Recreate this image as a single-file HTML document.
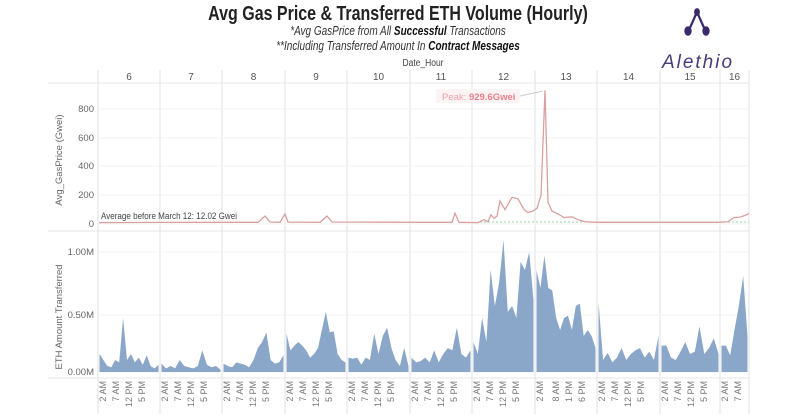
<!DOCTYPE html>
<html><head><meta charset="utf-8"><style>
body{margin:0;background:#fff;width:800px;height:414px;overflow:hidden;font-family:"Liberation Sans",sans-serif}
text{font-family:"Liberation Sans",sans-serif}
</style></head><body>
<svg id="s" width="800" height="414" viewBox="0 0 800 414" xmlns="http://www.w3.org/2000/svg">
<text x="398" y="20" text-anchor="middle" font-size="20" font-weight="bold" fill="#222" transform="translate(398 0) scale(0.8 1) translate(-398 0)">Avg Gas Price &amp; Transferred ETH Volume (Hourly)</text>
<text x="398" y="35" text-anchor="middle" font-size="12.5" font-style="italic" fill="#333" transform="translate(398 0) scale(0.8 1) translate(-398 0)">*Avg GasPrice from All <tspan font-weight="bold" fill="#111">Successful</tspan> Transactions</text>
<text x="398" y="50" text-anchor="middle" font-size="12.5" font-style="italic" fill="#333" transform="translate(398 0) scale(0.8 1) translate(-398 0)">**Including Transferred Amount In <tspan font-weight="bold" fill="#111">Contract Messages</tspan></text>
<g fill="#3b2a6b" stroke="#3b2a6b" stroke-width="2.2">
<line x1="697" y1="12" x2="689" y2="30"/><line x1="697" y1="12" x2="705" y2="30"/>
<ellipse cx="697" cy="12" rx="1.8" ry="2.8"/><ellipse cx="688" cy="31" rx="2.6" ry="3.6"/><ellipse cx="706" cy="31" rx="2.6" ry="3.6"/>
</g>
<text x="698" y="68" text-anchor="middle" font-size="19" font-style="italic" fill="#4a3a78" letter-spacing="2">Alethio</text>
<text x="423" y="66" text-anchor="middle" font-size="10" fill="#444" transform="translate(423 0) scale(0.85 1) translate(-423 0)">Date_Hour</text>
<g id="g"></g>
<text transform="translate(62 160) rotate(-90)" text-anchor="middle" font-size="9.5" fill="#666">Avg_GasPrice (Gwei)</text>
<text transform="translate(62 317) rotate(-90)" text-anchor="middle" font-size="9.5" fill="#666">ETH Amount Transferred</text>
</svg>
<script>
const g=document.getElementById('g');let h='';
const divs=[98,160,222,285,347,410,472,535,597,660,720,749];
const days=['6','7','8','9','10','11','12','13','14','15','16'];
h+='<line x1="48" y1="83" x2="749" y2="83" stroke="#e4e4e4"/>';
h+='<line x1="48" y1="231" x2="749" y2="231" stroke="#e4e4e4"/>';
h+='<line x1="48" y1="378" x2="749" y2="378" stroke="#e4e4e4"/>';
for(const d of divs)h+=`<line x1="${d}" y1="70" x2="${d}" y2="414" stroke="#e2e2e2"/>`;
days.forEach((d,i)=>{h+=`<text x="${(divs[i]+divs[i+1])/2}" y="80" text-anchor="middle" font-size="10" fill="#555">${d}</text>`});
[[0,224],[200,195],[400,166],[600,138],[800,109]].forEach(([v,y])=>{h+=`<line x1="98" y1="${y}" x2="749" y2="${y}" stroke="#f3f3f3"/><text x="94" y="${y+3}" text-anchor="end" font-size="9.5" fill="#666">${v}</text>`});
[['1.00M',252],['0.50M',315],['0.00M',372]].forEach(([v,y])=>{h+=`<line x1="98" y1="${y}" x2="749" y2="${y}" stroke="#f3f3f3"/><text x="94" y="${y+3}" text-anchor="end" font-size="9.5" fill="#666">${v}</text>`});
const A=[[0.15,0.1,0.05,0.04,0.1,0.08,0.45,0.1,0.15,0.08,0.12,0.06,0.14,0.05,0.03,0.06],
[0.07,0.03,0.05,0.03,0.1,0.05,0.04,0.03,0.05,0.18,0.06,0.04,0.05,0.02],
[0.07,0.05,0.04,0.08,0.07,0.06,0.04,0.1,0.2,0.25,0.33,0.1,0.07,0.08,0.14],
[0.32,0.18,0.22,0.25,0.22,0.18,0.12,0.15,0.2,0.35,0.5,0.33,0.34,0.15,0.1,0.08],
[0.12,0.11,0.12,0.06,0.12,0.1,0.32,0.15,0.3,0.37,0.2,0.1,0.05,0.2,0.05],
[0.12,0.08,0.09,0.12,0.08,0.18,0.08,0.15,0.2,0.18,0.37,0.15,0.12,0.18],
[0.25,0.15,0.45,0.25,0.85,0.55,0.75,1.1,0.5,0.55,0.45,0.92,0.85,1.0,0.6],
[0.85,0.7,0.97,0.7,0.68,0.45,0.35,0.45,0.47,0.35,0.55,0.57,0.3,0.35,0.3,0.2],
[0.58,0.1,0.16,0.08,0.12,0.2,0.1,0.15,0.18,0.2,0.12,0.17,0.1,0.3],
[0.22,0.22,0.12,0.1,0.17,0.25,0.15,0.17,0.38,0.15,0.2,0.28,0.15],
[0.22,0.22,0.14,0.35,0.55,0.8,0.3]];
A.forEach((arr,i)=>{const x0=divs[i]+1.5,x1=divs[i+1]-1.5,n=arr.length;let p=`M${x0},372`;
arr.forEach((v,j)=>{p+=` L${(x0+(x1-x0)*j/(n-1)).toFixed(1)},${(372-v*120).toFixed(1)}`});
p+=` L${x1},372Z`;h+=`<path d="${p}" fill="#8aa6c8"/>`;});
const tk=[[2,7,12,17],[2,7,12,17],[2,7,12,17],[2,7,12,17],[2,7,12,17],[2,7,12,17],[2,7,12,17],[2,8,13,18],[2,7,12,17],[2,7,12,17],[2,7]];
tk.forEach((hs,i)=>hs.forEach(hr=>{const x=divs[i]+hr*2.6+3;const lab=hr<12?hr+' AM':(hr==12?'12 PM':(hr-12)+' PM');
h+=`<text transform="translate(${x} 381) rotate(-90)" text-anchor="end" font-size="9" fill="#777">${lab}</text>`}));
const P=[[99,10],[160,11],[222,12],[258,12],[265,55],[270,14],[280,12],[285,70],[288,13],[320,12],[327,55],[332,14],[420,12],[452,12],[455,75],[459,12],[478,10],[484,30],[488,15],[491,65],[494,40],[497,55],[500,160],[505,100],[512,185],[518,175],[524,100],[528,80],[533,90],[537,110],[541,200],[545,930],[548,150],[552,90],[558,70],[564,45],[572,50],[578,30],[585,15],[597,12],[720,12],[728,15],[734,45],[740,48],[745,60],[749,72]];
h+=`<line x1="480" y1="222" x2="749" y2="222" stroke="#8fd9a0" stroke-dasharray="2,2"/>`;
h+=`<polyline points="${P.map(([x,v])=>x+','+(224-v*0.14375).toFixed(1)).join(' ')}" fill="none" stroke="#d9a0a0" stroke-width="1.3"/>`;
h+=`<text x="101" y="219" font-size="9.5" fill="#444" transform="translate(101 0) scale(0.85 1) translate(-101 0)">Average before March 12: 12.02 Gwei</text>`;
h+=`<rect x="436" y="89" width="84" height="14" fill="#fbf3f4"/><line x1="520" y1="96" x2="543" y2="91" stroke="#ccc"/>`;
h+=`<text x="442" y="100" font-size="9.5" fill="#f0a0aa">Peak: <tspan font-weight="bold" fill="#e8808c">929.6Gwei</tspan></text>`;
g.innerHTML=h;
</script>
</body></html>
